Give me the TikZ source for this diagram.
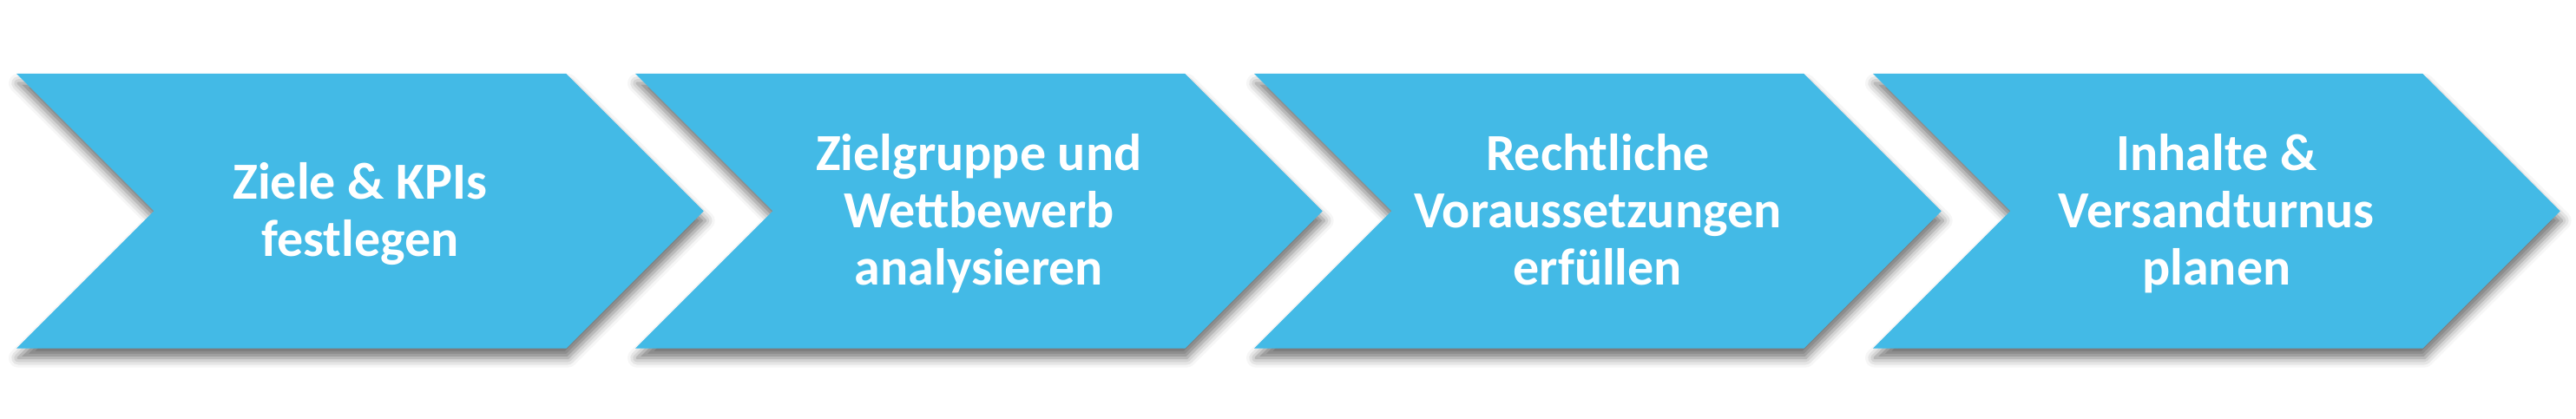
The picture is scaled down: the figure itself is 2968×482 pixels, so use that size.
\documentclass[tikz,border=0pt]{standalone}
\usepackage{fontspec}
\setmainfont{Carlito}
\usepackage{tikz}
\usepackage{xcolor}
\usetikzlibrary{shapes.symbols, shadows.blur, positioning}
\definecolor{StepBlue}{HTML}{43BAE6}

\begin{document}
\begin{tikzpicture}[x=1pt, y=1pt, node distance=713pt, on grid, phase/.style={signal, signal from=west, signal to=east, signal pointer angle=90, minimum width=791.7pt, minimum height=316.7pt, inner sep=0pt, fill=StepBlue, text=white, align=center, font=\fontsize{60}{66}\selectfont\bfseries, text depth=0pt, blur shadow={shadow xshift=2pt, shadow yshift=-11pt, shadow blur radius=11pt, shadow opacity=55}}]

        \useasboundingbox (0,0) rectangle (2968,482);

        \node[phase, text height=104pt] (ziele) at (414.85,238.7) {Ziele \& KPIs\\festlegen};

        \node[phase, text height=170pt, right=of ziele] (zielgruppe) {Zielgruppe und\\Wettbewerb\\analysieren};

        \node[phase, text height=170pt, right=of zielgruppe] (recht) {Rechtliche\\Voraussetzungen\\erfüllen};

        \node[phase, text height=170pt, right=of recht] (inhalte) {Inhalte \&\\Versandturnus\\planen};

    \end{tikzpicture}
\end{document}
